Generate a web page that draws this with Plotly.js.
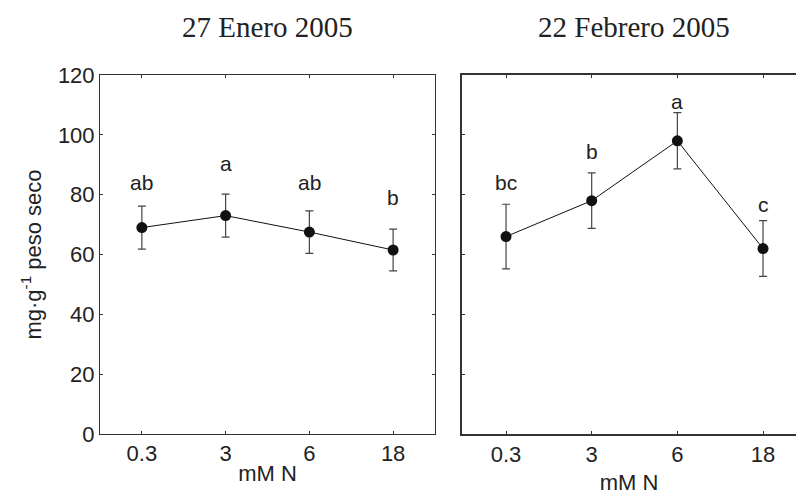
<!DOCTYPE html>
<html>
<head>
<meta charset="utf-8">
<script src="https://cdn.plot.ly/plotly-3.0.1.min.js"></script>
<style>html,body{margin:0;padding:0;background:#fff;}#chart{width:796px;height:495px;}</style>
</head>
<body>
<div id="chart"></div>
<script>
// Data
const categories = ['0.3', '3', '6', '18'];
const eneroMean = [69, 73, 67.5, 61.5];
const eneroErr = [7.2, 7.2, 7.1, 7.0];
const eneroLetters = ['ab', 'a', 'ab', 'b'];
const eneroLetterY = [84, 90.5, 84, 79];
const febreroMean = [66, 78, 98, 62];
const febreroErr = [10.8, 9.3, 9.4, 9.3];
const febreroLetters = ['bc', 'b', 'a', 'c'];
const febreroLetterY = [84, 94.5, 111.3, 76.6];
const panelTitles = ['27 Enero 2005', '22 Febrero 2005'];
const yTicks = [0, 20, 40, 60, 80, 100, 120];

const W = 796, H = 495;
const yDom = [1 - 434 / H, 1 - 75 / H];
const x1Dom = [100 / W, 435 / W];
const x2Dom = [462 / W, 1];

const sans = 'Liberation Sans, Arial, sans-serif';
const serif = 'Liberation Serif, Times New Roman, serif';

function trace(y, err, xa, ya) {
  return {
    x: categories, y: y, xaxis: xa, yaxis: ya,
    type: 'scatter', mode: 'lines+markers',
    line: {color: '#111', width: 1},
    marker: {color: '#111', size: 11},
    error_y: {type: 'data', array: err, visible: true, color: '#444', thickness: 1.2, width: 4},
    showlegend: false, hoverinfo: 'skip'
  };
}

const data = [
  trace(eneroMean, eneroErr, 'x', 'y'),
  trace(febreroMean, febreroErr, 'x2', 'y2')
];

const letterFont = {family: sans, size: 21, color: '#222'};
const annotations = [];
categories.forEach((c, i) => {
  annotations.push({x: i, y: eneroLetterY[i], xref: 'x', yref: 'y', text: eneroLetters[i],
    showarrow: false, font: letterFont});
  annotations.push({x: i, y: febreroLetterY[i], xref: 'x2', yref: 'y2', text: febreroLetters[i],
    showarrow: false, font: letterFont});
});
annotations.push({x: 267.5 / W, y: 1 - 27 / H, xref: 'paper', yref: 'paper', text: panelTitles[0],
  showarrow: false, xanchor: 'center', yanchor: 'middle', font: {family: serif, size: 29, color: '#222'}});
annotations.push({x: 634 / W, y: 1 - 27 / H, xref: 'paper', yref: 'paper', text: panelTitles[1],
  showarrow: false, xanchor: 'center', yanchor: 'middle', font: {family: serif, size: 29, color: '#222'}});

const tickFont = {family: sans, size: 22, color: '#222'};
const titleFont = {family: sans, size: 22, color: '#222'};

const layout = {
  width: W, height: H,
  margin: {l: 0, r: 0, t: 0, b: 0},
  paper_bgcolor: '#fff', plot_bgcolor: '#fff',
  showlegend: false,
  xaxis: {
    domain: x1Dom, anchor: 'y', type: 'category', range: [-0.5, 3.5],
    showline: true, linecolor: '#333', linewidth: 1, mirror: 'allticks',
    ticks: 'inside', ticklen: 3, tickcolor: '#333', showgrid: false, zeroline: false,
    tickfont: tickFont,
    title: {text: 'mM N', font: titleFont, standoff: 0}
  },
  yaxis: {
    domain: yDom, anchor: 'x', range: [0, 120], tickvals: yTicks,
    showline: true, linecolor: '#333', linewidth: 1, mirror: 'allticks',
    ticks: 'inside', ticklen: 3, tickcolor: '#333', showgrid: false, zeroline: false,
    tickfont: tickFont,
    title: {text: 'mg·g<sup>-1</sup> peso seco', font: titleFont, standoff: 10}
  },
  xaxis2: {
    domain: x2Dom, anchor: 'y2', type: 'category', range: [-0.514, 3.385],
    showline: true, linecolor: '#333', linewidth: 2, mirror: 'allticks',
    ticks: 'inside', ticklen: 3, tickcolor: '#333', showgrid: false, zeroline: false,
    tickfont: tickFont,
    title: {text: 'mM N', font: titleFont, standoff: 12}
  },
  yaxis2: {
    domain: yDom, anchor: 'x2', range: [0, 120], tickvals: yTicks,
    showline: true, linecolor: '#333', linewidth: 2, mirror: false,
    ticks: 'inside', ticklen: 3, tickcolor: '#333', showgrid: false, zeroline: false,
    showticklabels: false
  },
  annotations: annotations
};

Plotly.newPlot('chart', data, layout, {staticPlot: true, displayModeBar: false});
</script>
</body>
</html>
